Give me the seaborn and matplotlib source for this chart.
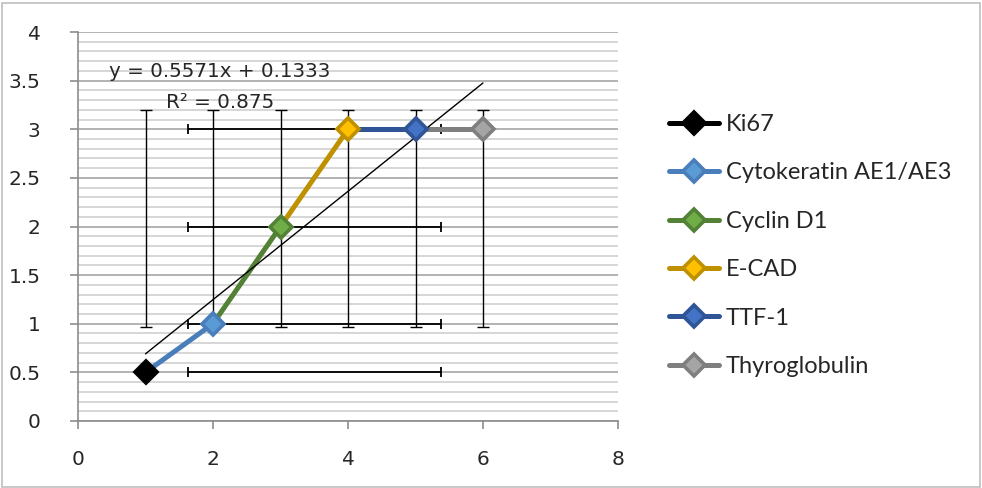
from matplotlib import pyplot as plt
from matplotlib.lines import Line2D
from matplotlib.patches import Rectangle
from matplotlib.ticker import FuncFormatter
import pandas as pd
import numpy as np
import seaborn as sns

# marker data
markers = ['Ki67', 'Cytokeratin AE1/AE3', 'Cyclin D1', 'E-CAD', 'TTF-1', 'Thyroglobulin']
x_vals = [1, 2, 3, 4, 5, 6]
y_vals = [0.5, 1, 2, 3, 3, 3]
edge_colors = ['#000000', '#4A7EBB', '#538135', '#BF9000', '#2F5597', '#7F7F7F']
fill_colors = ['#000000', '#5B9BD5', '#70AD47', '#FFC000', '#4472C4', '#A5A5A5']

# error bars (as drawn in the original)
vbar_x = [1, 2, 3, 4, 5, 6]
vbar_low = [0.97, 0.97, 0.97, 0.97, 0.97, 0.97]
vbar_high = [3.2, 3.2, 3.2, 3.2, 3.2, 3.2]
hbar_y = [0.5, 1, 2, 3]
hbar_left = [1.63, 1.63, 1.63, 1.63]
hbar_right = [5.38, 5.38, 5.38, 5.38]

# linear trendline
slope, intercept, r2 = 0.5571, 0.1333, 0.875
trend_x = [1, 6]

if __name__ == "__main__":
    sns.set_style('white')
    plt.rcParams['font.family'] = ['DejaVu Sans']

    fig = plt.figure(figsize=(9.82, 4.88), dpi=100)
    ax = fig.add_axes([78 / 982, 1 - 421 / 488, 540 / 982, 389 / 488])

    # grid
    ax.set_xlim(0, 8)
    ax.set_ylim(0, 4)
    ax.set_xticks([0, 2, 4, 6, 8])
    ax.set_yticks(np.arange(0, 4.01, 0.5))
    ax.set_yticks(np.arange(0, 4.01, 0.1), minor=True)
    ax.yaxis.set_major_formatter(FuncFormatter(lambda v, p: f'{v:g}'))
    ax.yaxis.grid(True, which='minor', color='#d0d0d0', lw=1.2)
    ax.yaxis.grid(True, which='major', color='#a6a6a6', lw=1.2)
    ax.set_axisbelow(True)
    for s in ['top', 'right']:
        ax.spines[s].set_visible(False)
    for s in ['left', 'bottom']:
        ax.spines[s].set_color('#8c8c8c')
        ax.spines[s].set_linewidth(1.2)
    ax.tick_params(axis='both', which='major', direction='out', length=6, width=1.2,
                   color='#8c8c8c', labelsize=14.5, left=True, bottom=True)
    ax.tick_params(axis='y', which='minor', length=0)
    ax.tick_params(axis='x', which='major', pad=15)
    ax.tick_params(axis='y', which='major', pad=21)

    # error bars
    vmid = [(lo + hi) / 2 for lo, hi in zip(vbar_low, vbar_high)]
    vlen = [(hi - lo) / 2 for lo, hi in zip(vbar_low, vbar_high)]
    ax.errorbar(vbar_x, vmid, yerr=vlen, fmt='none', ecolor='black', elinewidth=1,
                capsize=4.3, capthick=1, zorder=2)
    hmid = [(lo + hi) / 2 for lo, hi in zip(hbar_left, hbar_right)]
    hlen = [(hi - lo) / 2 for lo, hi in zip(hbar_left, hbar_right)]
    ax.errorbar(hmid, hbar_y, xerr=hlen, fmt='none', ecolor='black', elinewidth=1.3,
                capsize=3.8, capthick=1.3, zorder=2)

    # connecting segments, one per series
    seg_rows = []
    for i in range(1, len(markers)):
        seg_rows.append({'x': x_vals[i - 1], 'y': y_vals[i - 1], 'series': markers[i]})
        seg_rows.append({'x': x_vals[i], 'y': y_vals[i], 'series': markers[i]})
    seg = pd.DataFrame(seg_rows)
    sns.lineplot(data=seg, x='x', y='y', hue='series', palette=dict(zip(markers, edge_colors)),
                 lw=3.6, legend=False, ax=ax, zorder=3, sort=False, estimator=None)

    # trendline
    trend_y = [slope * t + intercept for t in trend_x]
    ax.plot(trend_x, trend_y, color='black', lw=1, zorder=4)

    # markers
    for xv, yv, ec, fc in zip(x_vals, y_vals, edge_colors, fill_colors):
        ax.plot(xv, yv, marker='D', ms=11, mfc=fc, mec=ec, mew=2.6, ls='none', zorder=5)

    ax.set_xlabel('')
    ax.set_ylabel('')

    ax.text(2.1, 3.59, f'y = {slope}x + {intercept}', fontsize=14.3, ha='center', va='center', zorder=6)
    ax.text(2.1, 3.27, f'R² = {r2:g}', fontsize=14.3, ha='center', va='center', zorder=6)

    # legend
    handles = [Line2D([0], [0], color=ec, lw=3.6, marker='D', ms=11, mfc=fc, mec=ec, mew=2.6)
               for ec, fc in zip(edge_colors, fill_colors)]
    fig.legend(handles, markers, loc='upper left', bbox_to_anchor=(669 / 982, 1 - 114 / 488),
               frameon=False, prop={'family': 'Lato', 'size': 17}, handlelength=2.1,
               handletextpad=0.3, labelspacing=1.16, borderaxespad=0, borderpad=0)

    fig.patches.append(Rectangle((2 / 982, 1 / 488), 978 / 982, 484 / 488, transform=fig.transFigure,
                                 fill=False, edgecolor='#bfbfbf', lw=1.2))

    plt.savefig('out.png', dpi=100)
